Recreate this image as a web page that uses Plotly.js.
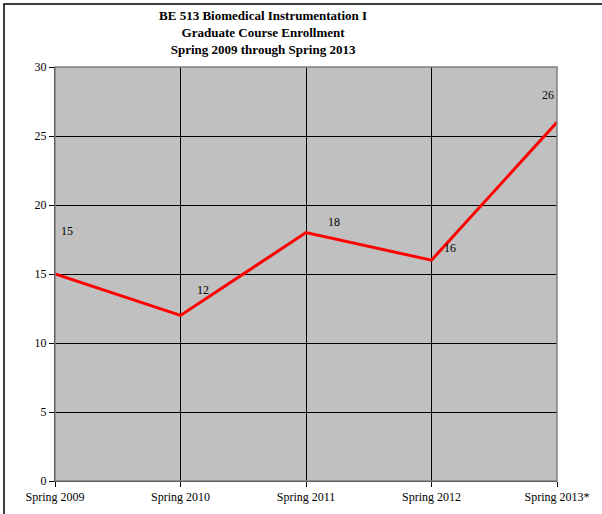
<!DOCTYPE html>
<html>
<head>
<meta charset="utf-8">
<script src="https://cdn.plot.ly/plotly-3.0.1.min.js"></script>
<style>
  html, body { margin: 0; padding: 0; background: #ffffff; }
  #chart { width: 602px; height: 514px; }
</style>
</head>
<body>
<div id="chart"></div>
<script>
// Data
const semesters = ["Spring 2009", "Spring 2010", "Spring 2011", "Spring 2012", "Spring 2013*"];
const enrollment = [15, 12, 18, 16, 26];
const yTicks = [0, 5, 10, 15, 20, 25, 30];

// Label offsets (styling, in pixels)
const labelDx = [12, 22, 28, 18, -9];
const labelDy = [43, 25, 11, 12, 27];

const xIdx = semesters.map((_, i) => i);
const serif = "Liberation Serif, Times New Roman, serif";

const trace = {
  x: xIdx,
  y: enrollment,
  type: "scatter",
  mode: "lines",
  line: { color: "#ff0000", width: 3 },
  hoverinfo: "skip"
};

const annotations = enrollment.map((v, i) => ({
  x: xIdx[i], y: v, xref: "x", yref: "y",
  text: String(v), showarrow: false,
  xshift: labelDx[i], yshift: labelDy[i],
  font: { family: serif, size: 12, color: "#000" }
}));

const layout = {
  width: 602, height: 514,
  margin: { l: 55, r: 45, t: 67, b: 33, pad: 0 },
  paper_bgcolor: "#ffffff",
  plot_bgcolor: "#c0c0c0",
  showlegend: false,
  title: {
    text: "<b>BE 513 Biomedical Instrumentation I<br>Graduate Course Enrollment<br>Spring 2009 through Spring 2013</b>",
    font: { family: serif, size: 13, color: "#000" },
    x: 0.437, xref: "container", xanchor: "center",
    y: 0.961, yref: "container", yanchor: "middle"
  },
  xaxis: {
    range: [0, 4],
    tickvals: xIdx, ticktext: semesters,
    showgrid: true, gridcolor: "#000000", gridwidth: 1,
    zeroline: false,
    showline: true, linecolor: "#000000", linewidth: 1,
    ticks: "outside", ticklen: 5, tickcolor: "#000",
    tickfont: { family: serif, size: 12, color: "#000" },
    fixedrange: true
  },
  yaxis: {
    range: [0, 30],
    tickvals: yTicks,
    showgrid: true, gridcolor: "#000000", gridwidth: 1,
    zeroline: false,
    showline: true, linecolor: "#000000", linewidth: 1,
    ticks: "outside", ticklen: 5, tickcolor: "#000",
    tickfont: { family: serif, size: 12, color: "#000" },
    fixedrange: true
  },
  annotations: annotations,
  shapes: [
    { type: "rect", xref: "paper", yref: "paper", x0: 0, x1: 1, y0: 0, y1: 1,
      line: { color: "#808080", width: 1.5 }, fillcolor: "rgba(0,0,0,0)", layer: "above" },
    { type: "path", xref: "paper", yref: "paper",
      path: "M -0.1016,-0.2 L -0.1016,1.1522 L 1.2,1.1522",
      line: { color: "#000000", width: 1.5 } }
  ]
};

Plotly.newPlot("chart", [trace], layout, { displayModeBar: false, staticPlot: true });
</script>
</body>
</html>
